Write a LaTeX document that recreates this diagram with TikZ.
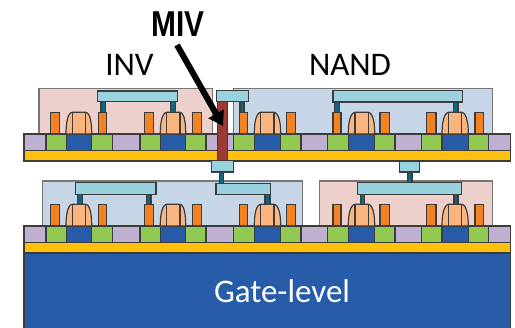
\documentclass[tikz,border=0pt]{standalone}
\usepackage{fontspec}
\setmainfont{Carlito}
\newfontfamily\mivfont{Liberation Sans}
\usetikzlibrary{arrows.meta}
\definecolor{cpink}{HTML}{EDCFCC}
\definecolor{cblue}{HTML}{C7D6E6}
\definecolor{cpurple}{HTML}{BFB0D2}
\definecolor{cgreen}{HTML}{92C953}
\definecolor{cdeep}{HTML}{275DA8}
\definecolor{cyellow}{HTML}{FFC00E}
\definecolor{corange}{HTML}{F58220}
\definecolor{cpeach}{HTML}{FBB57E}
\definecolor{cpad}{HTML}{9AD1DE}
\definecolor{cvia}{HTML}{11657F}
\definecolor{cmiv}{HTML}{9C3A36}
\definecolor{cedge}{HTML}{3C3C3C}
\tikzset{
  part/.style={draw=cedge,line width=1.2pt},
  wellbox/.style={draw=cedge!70,line width=1.1pt},
  labeltext/.style={font=\fontsize{33}{33}\selectfont,text=black,inner sep=0pt},
}
% active layer at top y #1
\newcommand{\layer}[1]{%
  \pgfmathsetmacro{\yb}{#1+16.5}
  \pgfmathsetmacro{\yy}{#1+27}
  \foreach \a/\b/\c in {24/46/cpurple,46/66.7/cgreen,66.7/91.7/cdeep,91.7/112.3/cgreen,112.3/140/cpurple,140/160.3/cgreen,160.3/185.7/cdeep,185.7/206/cgreen,206/233.3/cpurple,233.3/254.3/cgreen,254.3/280.7/cdeep,280.7/301/cgreen,301/327.7/cpurple,327.7/348.3/cgreen,348.3/374.7/cdeep,374.7/395/cgreen,395/421.7/cpurple,421.7/442/cgreen,442/468.3/cdeep,468.3/488.7/cgreen,488.7/510.7/cpurple}
    {\draw[part,fill=\c] (\a,#1) rectangle (\b,\yb);}
  \draw[part,fill=cyellow] (24,\yb) rectangle (510.7,\yy);
}
% gates with spacers, device top y #1, layer top y #2
\newcommand{\gates}[2]{%
  \foreach \p/\i/\j/\q in {66/72.3/85.7/91.7,160.3/166.7/180/185.7,254.3/260.7/274/280.7,348.3/355/368.3/374.7,442/448.7/461.7/468.3}{
    \draw[part,fill=cpeach] (\p,#2) .. controls (\p,#1+3) and (\i-2,#1) .. (\i,#1) -- (\j,#1) .. controls (\j+2,#1) and (\q,#1+3) .. (\q,#2) -- cycle;
    \draw[part] (\i,#1) -- (\i,#2) (\j,#1) -- (\j,#2);
  }
}
% contact bars: list of left/right
\newcommand{\contacts}[2]{%
  \foreach \a/\b in {50.3/59.3,98.7/106.7,144.3/153.3,192.7/201.7,239.3/247.3,286.3/295.3,333/341,380/389.3,426.7/436,475/483.3}
    {\draw[part,fill=corange] (\a,#1) rectangle (\b,#2);}
}
\newcommand{\via}[4]{\draw[part,fill=cvia] (#1,#3) rectangle (#2,#4);}
\newcommand{\pad}[4]{\draw[part,fill=cpad] (#1,#3) rectangle (#2,#4);}
\begin{document}
\begin{tikzpicture}[x=1pt,y=-1pt]
\useasboundingbox (0,0) rectangle (515,328);
% substrate
\fill[white] (0,0) rectangle (515,328);
\draw[part,fill=cdeep] (24,253.5) rectangle (510.7,329);
% lower tier
\draw[wellbox,fill=cblue] (42.3,181) rectangle (302.3,226);
\draw[wellbox,fill=cpink] (319.3,181) rectangle (492.3,226);
\layer{226}
\gates{204.3}{226}
\contacts{204.3}{226}
\via{77.7}{82.7}{194}{204.3}
\via{146.3}{151}{194}{204.3}
\via{265}{270}{194}{204.3}
\via{360.3}{364.3}{194}{204.3}
\via{454}{458}{194}{204.3}
\pad{75.3}{156}{182.3}{194.3}
\pad{216}{270.7}{183.3}{194.3}
\pad{357.3}{461.3}{182.3}{194.3}
% inter-tier vias
\via{219.3}{223.3}{172}{183.3}
\via{407.3}{412}{172}{182.3}
% upper tier
\draw[wellbox,fill=cpink] (39,88.3) rectangle (212.3,134);
\draw[wellbox,fill=cblue] (233.3,88.3) rectangle (492.3,134);
\layer{134}
\gates{112.3}{134}
\contacts{112.3}{134}
\via{101}{105.7}{101}{112.3}
\via{170.3}{175.7}{101}{112.3}
\via{240}{244}{101}{112.3}
\via{334.3}{339.3}{101}{112.3}
\via{453.3}{458}{101}{112.3}
\pad{97.3}{177.3}{91}{101.3}
\pad{333}{462.3}{90.7}{102}
\pad{399.3}{419.3}{161}{172}
% MIV
\draw[part,fill=cmiv,draw=cmiv!70!black] (217.3,100) rectangle (227.3,161);
\pad{216.3}{248.7}{90.7}{101.3}
\pad{211.7}{233.3}{160.7}{172}
% labels
\node[labeltext] (inv) at (129.5,65) {INV};
\node[labeltext] (nand) at (350,65) {NAND};
\node[labeltext,text=white] (gate) at (282,291) {Gate-level};
\node[inner sep=0pt,xscale=.83,font=\fontsize{36}{36}\selectfont\mivfont\bfseries] (miv) at (178,24.5) {MIV};
\coordinate (tip) at (223,126);
\coordinate (tail) at (177,45);
\draw[line width=6pt,-{Triangle[width=17pt,length=14pt]}] (tail) -- (tip);
\end{tikzpicture}
\end{document}
